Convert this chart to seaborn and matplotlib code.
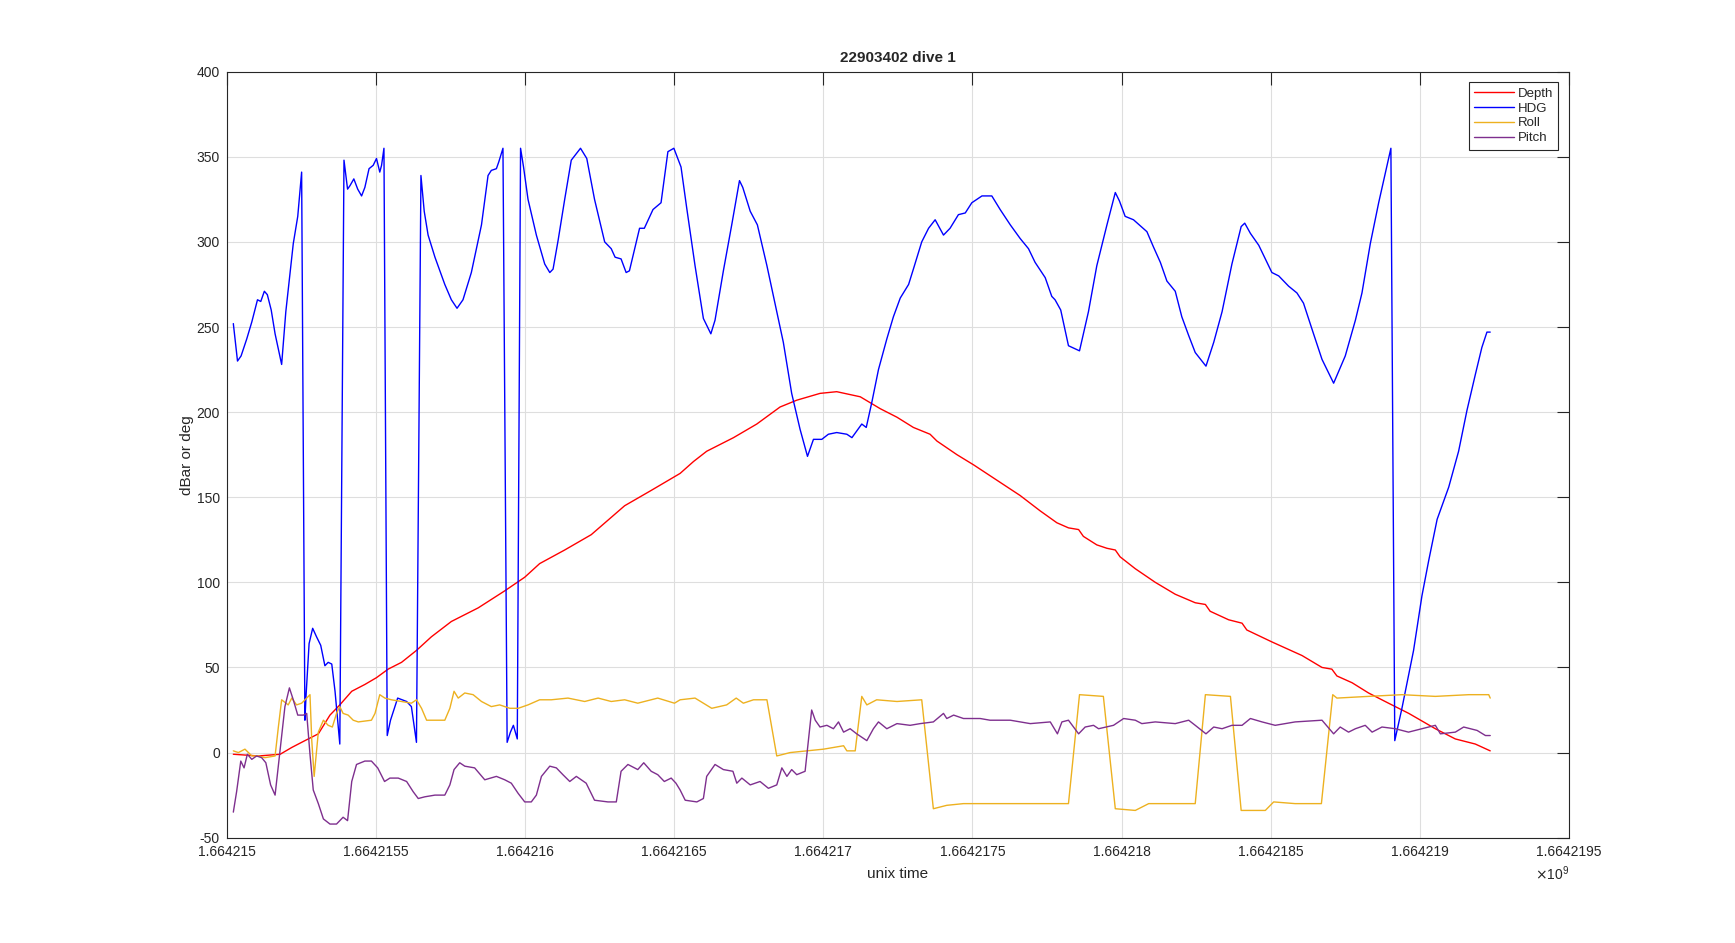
import numpy as np
import pandas as pd
import matplotlib
matplotlib.use("Agg")
import matplotlib.pyplot as plt
from matplotlib.ticker import FuncFormatter, MultipleLocator
import seaborn as sns

sns.set_style("white")
plt.rcParams['font.family'] = ['Liberation Sans', 'DejaVu Sans']

# ==========================================
# DATA (seconds after T0, values in dBar or deg)
# ==========================================

T0 = 1664215000

depth_t = [22, 106, 179, 218, 262, 307, 346, 379, 419, 463, 502, 541, 586, 636,
           686, 753, 843, 932, 999, 1049, 1133, 1222, 1334, 1423,
           1520, 1565, 1609, 1699, 1777, 1855, 1911, 1989, 2045, 2124, 2191,
           2247, 2302, 2358, 2381, 2448, 2504, 2582, 2660, 2727, 2783, 2822,
           2856, 2872, 2917, 2951, 2979, 2995,
           3046, 3113, 3180, 3247, 3281, 3297, 3359, 3404, 3420, 3504, 3605,
           3672, 3705, 3722, 3773, 3828, 3895, 3963, 4052, 4119, 4186, 4236]
depth_v = [-1, -2, -1, 3, 7, 11, 22, 28, 36, 40, 44, 49, 53, 60,
           68, 77, 85, 95, 103, 111, 119, 128, 145, 154,
           164, 171, 177, 185, 193, 203, 207, 211, 212, 209, 202,
           197, 191, 187, 183, 175, 169, 160, 151, 142, 135, 132,
           131, 127, 122, 120, 119, 115,
           108, 100, 93, 88, 87, 83, 78, 76, 72, 65, 57,
           50, 49, 45, 41, 35, 29, 23, 14, 8, 5, 1]

hdg_t = [22, 36, 48, 67, 84, 103, 114, 126, 136, 149, 162, 184, 198, 223, 238,
         251, 262, 266, 276, 288, 301, 315, 329, 340, 352, 363, 379, 393, 405,
         413, 426, 439, 452, 463, 477, 491, 502, 513, 519, 527, 538, 549, 573,
         603, 619, 636, 651, 662, 675, 698, 731, 753, 772, 792, 820, 854, 876,
         887, 904, 912, 926, 940, 951, 961, 974, 985, 995, 1010, 1038, 1066,
         1083, 1094, 1111, 1133, 1155, 1186, 1207, 1233, 1267, 1289, 1302,
         1322, 1339, 1350, 1384, 1400, 1429, 1456, 1479, 1499, 1523,
         1542, 1570, 1598, 1623, 1637, 1665, 1693, 1719, 1730, 1755, 1779,
         1811, 1844, 1866, 1894, 1922, 1947, 1967, 1995, 2017, 2045, 2079,
         2096, 2129, 2144, 2163, 2185, 2213, 2235, 2258, 2286, 2302, 2330,
         2353, 2375, 2403, 2425, 2453, 2476, 2498, 2532, 2565, 2593, 2627,
         2660, 2688, 2710, 2744, 2766, 2777, 2796, 2822, 2859, 2889, 2917,
         2951, 2979, 2993, 3012, 3040,
         3085, 3107, 3130, 3152, 3180, 3202, 3225, 3247, 3283, 3309, 3337,
         3370, 3401, 3413, 3432, 3460, 3482, 3504, 3527, 3560, 3588, 3610,
         3638, 3672, 3711, 3750, 3784, 3806, 3834, 3862, 3903, 3916, 3940,
         3979, 4007, 4030, 4058, 4097, 4130, 4158, 4186, 4208, 4225, 4236]
hdg_v = [252, 230, 233, 243, 253, 266, 265, 271, 269, 260, 246, 228, 259, 299, 315,
         341, 19, 34, 64, 73, 68, 63, 51, 53, 52, 36, 5, 348, 331,
         333, 337, 331, 327, 332, 343, 345, 349, 341, 345, 355, 10, 19, 32,
         30, 27, 6, 339, 318, 304, 291, 275, 266, 261, 266, 282, 310, 339,
         342, 343, 347, 355, 6, 12, 16, 8, 355, 344, 325, 304, 287,
         282, 284, 301, 325, 348, 355, 349, 325, 300, 296, 291,
         290, 282, 283, 308, 308, 319, 323, 353, 355, 344,
         320, 286, 255, 246, 254, 283, 310, 336, 332, 318, 310,
         286, 259, 241, 211, 190, 174, 184, 184, 187, 188, 187,
         185, 193, 191, 206, 225, 243, 256, 267, 275, 284, 300,
         308, 313, 304, 308, 316, 317, 323, 327, 327, 319, 310,
         302, 296, 288, 279, 268, 266, 260, 239, 236, 259, 286,
         310, 329, 324, 315, 313,
         306, 297, 288, 277, 271, 256, 245, 235, 227, 241, 259,
         287, 309, 311, 305, 298, 290, 282, 280, 274, 270, 264,
         249, 231, 217, 233, 254, 270, 299, 323, 355, 7, 26,
         60, 92, 113, 137, 156, 177, 201, 222, 238, 247, 247]

roll_t = [22, 39, 61, 84, 106, 128, 162, 173, 184, 206, 218, 234, 251, 268, 279,
          285, 293, 307, 324, 340, 354, 368, 379, 390, 407, 424, 441, 485, 497,
          513, 530, 552, 586, 619, 636, 653, 670, 698, 731, 748, 762, 776, 798,
          826, 854, 887, 915, 949, 977, 1010, 1049, 1088, 1144, 1200, 1245,
          1289, 1334, 1378, 1445, 1501,
          1520, 1570, 1626, 1676, 1708, 1732, 1766, 1811, 1844, 1889, 1945,
          2001, 2068, 2079, 2107, 2129, 2146, 2179, 2247, 2330, 2369, 2414,
          2470, 2593, 2749, 2822, 2859, 2939, 2979,
          3046, 3091, 3158, 3247, 3281, 3365, 3401, 3482, 3510, 3582, 3670,
          3708, 3722, 3828, 3940, 4052, 4164, 4231, 4236]
roll_v = [1, 0, 2, -2, -2, -3, -2, 15, 31, 28, 32, 28, 29, 32, 34,
          7, -14, 12, 19, 16, 15, 23, 27, 23, 22, 19, 18, 19, 23,
          34, 32, 31, 30, 29, 31, 26, 19, 19, 19, 26, 36, 32, 35,
          34, 30, 27, 28, 26, 26, 28, 31, 31, 32, 30, 32,
          30, 31, 29, 32, 29,
          31, 32, 26, 28, 32, 29, 31, 31, -2, 0, 1,
          2, 4, 1, 1, 33, 28, 31, 30, 31, -33, -31,
          -30, -30, -30, -30, 34, 33, -33,
          -34, -30, -30, -30, 34, 33, -34, -34, -29, -30, -30,
          34, 32, 33, 34, 33, 34, 34, 32]

pitch_t = [22, 33, 47, 58, 69, 84, 100, 117, 131, 147, 162, 179, 195, 210, 223,
           238, 257, 268, 279, 290, 307, 324, 346, 368, 390, 405, 419, 435, 463,
           485, 506, 529, 547, 575, 603, 625, 642, 664, 698, 731, 748, 762, 781,
           798, 831, 865, 904, 932, 954, 977, 999, 1021, 1038, 1055, 1083, 1105,
           1127, 1150, 1172, 1205, 1233, 1278, 1306, 1322, 1345, 1378, 1398,
           1423, 1445, 1467, 1490, 1506,
           1520, 1537, 1576, 1598, 1609, 1637, 1665, 1697, 1710, 1727, 1755,
           1788, 1816, 1844, 1861, 1878, 1894, 1911, 1939, 1961, 1973, 1989,
           2012, 2034, 2051, 2068, 2090, 2112, 2146, 2168, 2185, 2213, 2247,
           2291, 2325, 2369, 2403, 2414, 2437, 2470, 2526, 2559, 2627, 2694,
           2761, 2785, 2800, 2822, 2856, 2878, 2906, 2923, 2973, 3007,
           3046, 3068, 3113, 3180, 3225, 3247, 3283, 3309, 3337, 3370, 3404,
           3432, 3471, 3515, 3582, 3672, 3711, 3733, 3761, 3784, 3817, 3840,
           3873, 3918, 3962, 4007, 4052, 4069, 4119, 4147, 4192, 4220, 4236]
pitch_v = [-35, -23, -5, -9, -1, -4, -2, -3, -6, -19, -25, 2, 27, 38, 31,
           22, 22, 23, -1, -22, -30, -39, -42, -42, -38, -40, -17, -7, -5,
           -5, -9, -17, -15, -15, -17, -23, -27, -26, -25, -25, -19, -10, -6,
           -8, -9, -16, -14, -16, -18, -24, -29, -29, -25, -14, -8, -9,
           -13, -17, -14, -18, -28, -29, -29, -11, -7, -10, -6,
           -11, -13, -17, -15, -18,
           -22, -28, -29, -27, -14, -7, -10, -11, -18, -15, -19,
           -17, -21, -19, -9, -14, -10, -13, -11, 25, 19, 15,
           16, 14, 18, 12, 14, 11, 7, 14, 18, 14, 17,
           16, 17, 18, 23, 20, 22, 20, 20, 19, 19, 17,
           18, 11, 18, 19, 11, 15, 16, 14, 16, 20,
           19, 17, 18, 17, 19, 16, 11, 15, 14, 16, 16,
           20, 18, 16, 18, 19, 11, 15, 12, 14, 16, 12,
           15, 14, 12, 14, 16, 11, 12, 15, 13, 10, 10]

series = [
    ("Depth", depth_t, depth_v, "#ff0000"),
    ("HDG", hdg_t, hdg_v, "#0000ff"),
    ("Roll", roll_t, roll_v, "#EDB120"),
    ("Pitch", pitch_t, pitch_v, "#7E2F8E"),
]

# ==========================================
# PLOT
# ==========================================

fig = plt.figure(figsize=(17.35, 9.43), dpi=100)
ax = fig.add_axes([0.1307, 0.1117, 0.7736, 0.8123])

for name, t, v, color in series:
    df = pd.DataFrame({"time": np.array(t) + T0, "value": v})
    sns.lineplot(data=df, x="time", y="value", ax=ax, color=color,
                 linewidth=1.0, label=name, sort=False, estimator=None)

ax.set_xlim(1664215000, 1664219500)
ax.set_ylim(-50, 400)
ax.xaxis.set_major_locator(MultipleLocator(500))
ax.yaxis.set_major_locator(MultipleLocator(50))
ax.xaxis.set_major_formatter(FuncFormatter(lambda x, p: f"{x / 1e9:.8g}"))
ax.yaxis.set_major_formatter(FuncFormatter(lambda y, p: f"{y:g}"))

ax.grid(True, color="#dedede", linewidth=0.8)
ax.tick_params(direction="in", length=9, width=0.8, top=True, right=True,
               labelsize=10, colors="#262626", pad=5)
for s in ax.spines.values():
    s.set_color("#262626")
    s.set_linewidth(0.8)

ax.set_title("22903402 dive 1", fontsize=11, fontweight="bold", pad=7)
ax.set_xlabel("unix time", fontsize=11, color="#262626", labelpad=6)
ax.set_ylabel("dBar or deg", fontsize=11, color="#262626", labelpad=2)
ax.text(1.0, -0.047, r"$\times\mathregular{10^{9}}$", transform=ax.transAxes,
        ha="right", va="center", fontsize=10, color="#262626")

leg = ax.legend(loc="upper right", fontsize=9.5, handlelength=3.0,
                labelspacing=0.2, borderaxespad=0.8, fancybox=False,
                framealpha=1, edgecolor="#262626", borderpad=0.4,
                handletextpad=0.3)
leg.get_frame().set_linewidth(0.8)

fig.savefig("out.png", dpi=100)
